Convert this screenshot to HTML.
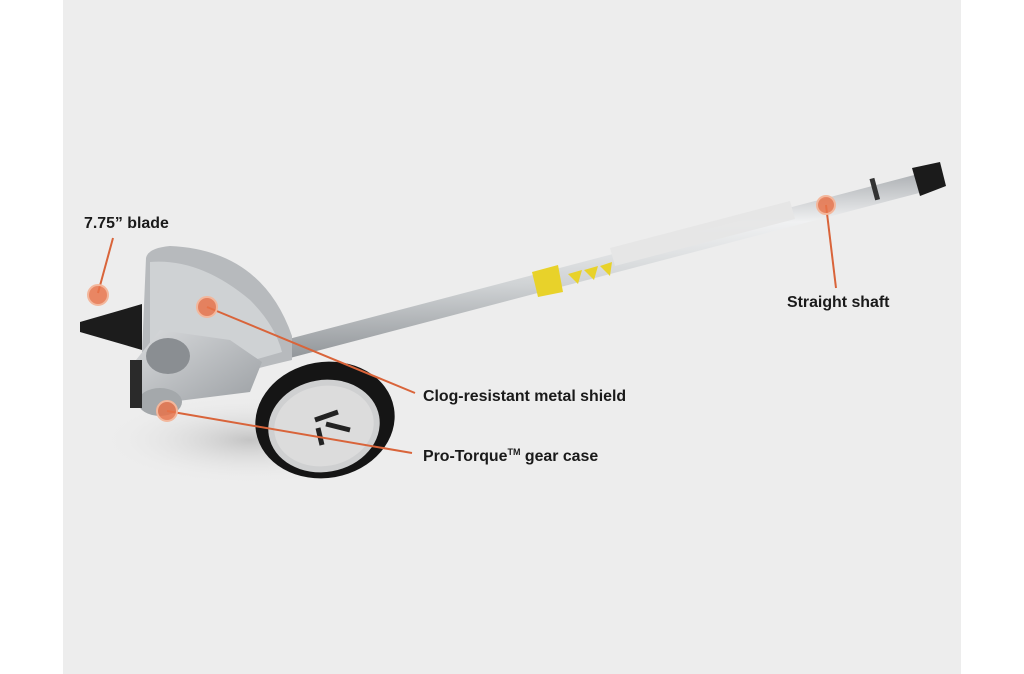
<!DOCTYPE html>
<html><head><meta charset="utf-8"><style>
html,body{margin:0;padding:0;background:#fff;}
svg{display:block}
text{font-family:"Liberation Sans",Arial,sans-serif;font-weight:bold;font-size:15.9px;fill:#1a1a1a}
</style></head><body>
<svg width="1024" height="674" viewBox="0 0 1024 674">
<defs>
<linearGradient id="sh" x1="0" y1="0" x2="0.06" y2="1">
<stop offset="0" stop-color="#9ea2a6"/><stop offset="0.3" stop-color="#f0f1f2"/><stop offset="0.6" stop-color="#d0d3d5"/><stop offset="1" stop-color="#8d9195"/>
</linearGradient>
<radialGradient id="shd" cx="0.5" cy="0.5" r="0.5"><stop offset="0" stop-color="#c4c4c4"/><stop offset="1" stop-color="#ededed" stop-opacity="0"/></radialGradient>
<linearGradient id="gd" x1="0" y1="0" x2="1" y2="1"><stop offset="0" stop-color="#d8dadc"/><stop offset="1" stop-color="#9a9ea2"/></linearGradient>
</defs>
<rect x="63" y="0" width="898" height="674" fill="#ededed"/>
<ellipse cx="250" cy="440" rx="150" ry="45" fill="url(#shd)"/>
<!-- shaft -->
<polygon points="262,346 918,174 923,192 267,364" fill="url(#sh)"/>
<polygon points="610,248 790,201 795,219 615,266" fill="#e6e6e6" opacity="0.95"/>
<polygon points="532,272 558,265 563,292 538,297" fill="#e8d22a"/>
<polygon points="568,274 582,270 578,284" fill="#e8d22a"/>
<polygon points="584,270 598,266 594,280" fill="#e8d22a"/>
<polygon points="600,266 612,262 610,276" fill="#e8d22a"/>
<rect x="872" y="178" width="5" height="22" fill="#333" transform="rotate(-15 875 188)"/>
<polygon points="912,168 940,162 946,186 920,196" fill="#1b1b1b"/>
<!-- blade -->
<polygon points="80,322 142,304 142,350 80,332" fill="#1c1c1c"/>
<!-- shield -->
<path d="M146,258 Q148,248 170,246 Q262,250 292,336 L292,360 Q240,372 150,398 L140,400 Z" fill="#b7babd"/>
<path d="M150,262 Q200,258 250,300 Q275,325 282,352 L150,390 Z" fill="#cfd2d4"/>
<path d="M136,360 L160,330 L230,340 L262,362 L250,392 L170,402 L140,408 Z" fill="url(#gd)"/>
<ellipse cx="168" cy="356" rx="22" ry="18" fill="#8a8e92"/>
<ellipse cx="160" cy="402" rx="22" ry="14" fill="#a4a8ab"/>
<rect x="130" y="360" width="12" height="48" fill="#2a2a2a"/>
<!-- wheel -->
<ellipse cx="325" cy="420" rx="70" ry="58" fill="#151515" transform="rotate(-10 325 420)"/>
<ellipse cx="324" cy="426" rx="56" ry="46" fill="#cfd0d1" transform="rotate(-10 324 426)"/>
<ellipse cx="324" cy="426" rx="50" ry="40" fill="#dcdcdc" transform="rotate(-10 324 426)"/>
<path d="M315,420 L338,412 M318,428 L322,445 M326,424 L350,430" stroke="#222" stroke-width="5"/>
<!-- connectors -->
<g stroke="#d9643a" stroke-width="2">
<line x1="98" y1="293" x2="113" y2="238"/>
<line x1="207" y1="307" x2="415" y2="393"/>
<line x1="167" y1="411" x2="412" y2="453"/>
<line x1="826" y1="205" x2="836" y2="288"/>
</g>
<g fill="#e8734a" fill-opacity="0.85" stroke="#f3b79c" stroke-width="2">
<circle cx="98" cy="295" r="10"/>
<circle cx="207" cy="307" r="10"/>
<circle cx="167" cy="411" r="10"/>
<circle cx="826" cy="205" r="9"/>
</g>
<text x="84" y="228">7.75” blade</text>
<text x="787" y="307">Straight shaft</text>
<text x="423" y="401">Clog-resistant metal shield</text>
<text x="423" y="461">Pro-Torque<tspan font-size="9" dy="-6">TM</tspan><tspan dy="6"> gear case</tspan></text>
</svg>
</body></html>
